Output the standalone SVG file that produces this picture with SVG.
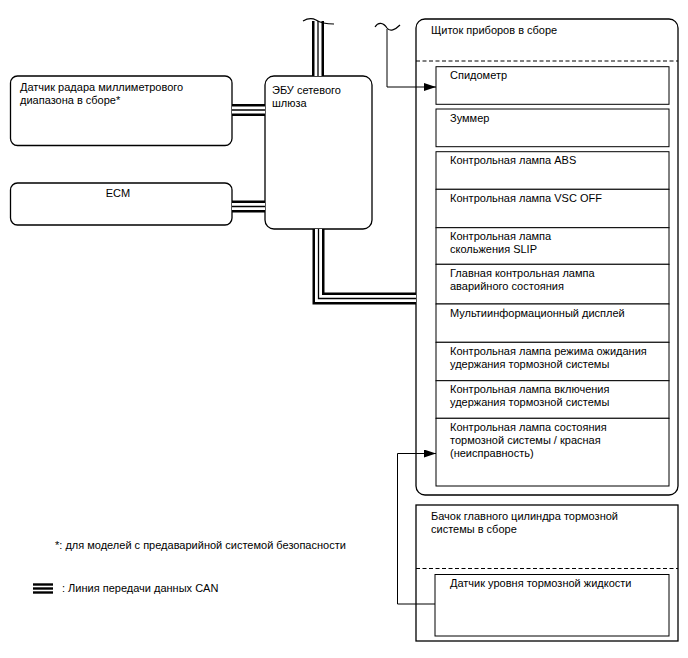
<svg xmlns="http://www.w3.org/2000/svg" width="688" height="658" viewBox="0 0 688 658">
<style>
text{font-family:"Liberation Sans",Arial,sans-serif;font-size:11px;fill:#000}
.node{fill:#fff;stroke:#000;stroke-width:1.3}
.inner{fill:#fff;stroke:#000;stroke-width:1}
.dash{fill:none;stroke:#000;stroke-width:1;stroke-dasharray:4 2.5}
.wire{fill:none;stroke:#000;stroke-width:1}
.b1{fill:none;stroke:#000;stroke-width:12;stroke-linejoin:miter}
.b2{fill:none;stroke:#fff;stroke-width:7}
.b3{fill:none;stroke:#000;stroke-width:1.3}
.wave{fill:none;stroke:#000;stroke-width:1.2}
.leg{stroke:#000;stroke-width:2.4}
</style>
<defs>
<marker id="arr" viewBox="0 0 12 8" refX="12" refY="4" markerWidth="12" markerHeight="8" markerUnits="userSpaceOnUse" orient="auto">
<path d="M0,0 L12,4 L0,8 z" fill="#000"/>
</marker>
<path id="busTop" d="M318,21 V76"/>
<path id="busRadar" d="M232,110 H265"/>
<path id="busEcm" d="M232,206.5 H265"/>
<path id="busBottom" d="M318.5,229 V298.5 H416"/>
</defs>
<rect width="688" height="658" fill="#fff"/>
<g id="radar">
<rect class="node" x="10.5" y="76" width="221.5" height="69.5" rx="7"/>
<text x="20" y="90.5">Датчик радара миллиметрового</text>
<text x="20" y="103.5">диапазона в сборе*</text>
</g>
<g id="ecm">
<rect class="node" x="10.5" y="183" width="221.5" height="42" rx="7"/>
<text x="118" y="196.5" text-anchor="middle">ECM</text>
</g>
<g id="gateway">
<rect class="node" x="265" y="76" width="107" height="153" rx="9"/>
<text x="272" y="93.5">ЭБУ сетевого</text>
<text x="272" y="106.5">шлюза</text>
</g>
<g id="cluster">
<rect class="node" x="416" y="19" width="262" height="476" rx="9"/>
<text x="431" y="33.5">Щиток приборов в сборе</text>
<path class="dash" d="M416,61 H678"/>
</g>
<g id="speedometer">
<rect class="inner" x="436" y="66.7" width="233" height="37.6"/>
<text x="450" y="79">Спидометр</text>
</g>
<g id="buzzer">
<rect class="inner" x="436" y="109" width="233" height="37.7"/>
<text x="450" y="121.5">Зуммер</text>
</g>
<g id="abs">
<rect class="inner" x="436" y="151.7" width="233" height="37.6"/>
<text x="450" y="164">Контрольная лампа ABS</text>
</g>
<g id="vscoff">
<rect class="inner" x="436" y="189.3" width="233" height="38.4"/>
<text x="450" y="202">Контрольная лампа VSC OFF</text>
</g>
<g id="slip">
<rect class="inner" x="436" y="227.7" width="233" height="36.6"/>
<text x="450" y="240">Контрольная лампа</text>
<text x="450" y="253">скольжения SLIP</text>
</g>
<g id="master">
<rect class="inner" x="436" y="264.3" width="233" height="39.7"/>
<text x="450" y="277">Главная контрольная лампа</text>
<text x="450" y="290">аварийного состояния</text>
</g>
<g id="mid">
<rect class="inner" x="436" y="304" width="233" height="38.3"/>
<text x="450" y="316.5">Мультиинформационный дисплей</text>
</g>
<g id="holdstandby">
<rect class="inner" x="436" y="342.3" width="233" height="38.4"/>
<text x="450" y="355">Контрольная лампа режима ожидания</text>
<text x="450" y="368">удержания тормозной системы</text>
</g>
<g id="holdon">
<rect class="inner" x="436" y="380.7" width="233" height="37.6"/>
<text x="450" y="393">Контрольная лампа включения</text>
<text x="450" y="406">удержания тормозной системы</text>
</g>
<g id="brakewarn">
<rect class="inner" x="436" y="418.3" width="233" height="67.7"/>
<text x="450" y="431">Контрольная лампа состояния</text>
<text x="450" y="444">тормозной системы / красная</text>
<text x="450" y="457">(неисправность)</text>
</g>
<g id="reservoir">
<rect class="node" x="416" y="505" width="262" height="136"/>
<text x="431" y="520">Бачок главного цилиндра тормозной</text>
<text x="431" y="533">системы в сборе</text>
<path class="dash" d="M416,568.5 H678"/>
</g>
<g id="levelsensor">
<rect class="inner" x="435" y="574.5" width="234" height="61.5"/>
<text x="450" y="586.5">Датчик уровня тормозной жидкости</text>
</g>
<g id="connectors">
<use href="#busTop" class="b1"/><use href="#busTop" class="b2"/><use href="#busTop" class="b3"/>
<use href="#busRadar" class="b1"/><use href="#busRadar" class="b2"/><use href="#busRadar" class="b3"/>
<use href="#busEcm" class="b1"/><use href="#busEcm" class="b2"/><use href="#busEcm" class="b3"/>
<use href="#busBottom" class="b1"/><use href="#busBottom" class="b2"/><use href="#busBottom" class="b3"/>
<path class="wave" d="M303,21 Q310,17 316,20 Q322,24 334,24"/>
<path class="wave" d="M375,27 C378,22 383,22 387,28 C390,32 395,30 400,25"/>
<path class="wire" d="M387,29 V87 H436" marker-end="url(#arr)"/>
<path class="wire" d="M435,604 H397.5 V453.5 H436" marker-end="url(#arr)"/>
</g>
<g id="legend">
<text x="55" y="549">*: для моделей с предаварийной системой безопасности</text>
<line class="leg" x1="33" y1="584.5" x2="53" y2="584.5"/>
<line class="leg" x1="33" y1="588.5" x2="53" y2="588.5"/>
<line class="leg" x1="33" y1="592.5" x2="53" y2="592.5"/>
<text x="62" y="592">: Линия передачи данных CAN</text>
</g>
</svg>
